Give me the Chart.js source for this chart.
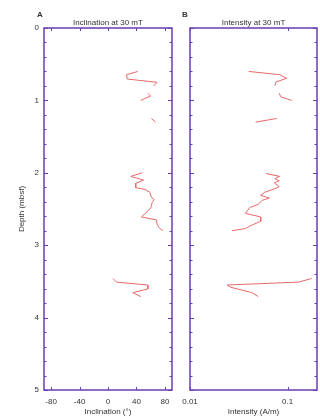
<!DOCTYPE html>
<html>
<head>
<meta charset="utf-8">
<script src="https://cdn.jsdelivr.net/npm/chart.js@4.4.1/dist/chart.umd.min.js"></script>
<style>
body{margin:0;background:#fff;}
#wrap{position:relative;width:320px;height:418px;}
canvas{position:absolute;top:0;}
</style>
</head>
<body>
<div id="wrap">
<canvas id="chartA" width="180" height="418" style="left:0"></canvas>
<canvas id="chartB" width="140" height="418" style="left:180px"></canvas>
</div>
<script>
// depth (mbsf) and values, null = gap between core sections
var incDepth = [0.60,0.645,0.705,0.75,0.80,null,0.90,0.94,1.00,null,1.25,1.30,null,
  2.00,2.05,2.10,2.145,2.205,2.23,2.27,2.34,2.37,2.41,2.47,2.53,2.61,2.65,2.71,2.76,2.80,null,
  3.46,3.51,3.55,3.605,3.655,3.71];
var incValue = [42,26,27,69,64,null,56,60,46,null,61,67,null,
  48,32,50,39,39,52,59,61,65,62,61,56,47,68,69,72,77,null,
  7,12,56,56,35,46];

var intDepth = [0.60,0.645,0.695,0.745,0.80,null,0.90,0.95,1.00,null,1.25,1.30,null,
  2.01,2.05,2.08,2.11,2.14,2.19,2.22,2.27,2.31,2.35,2.38,2.435,2.48,2.56,2.61,2.67,2.735,2.77,2.80,null,
  3.46,3.51,3.55,3.58,3.655,3.71];
var intValue = [0.040,0.083,0.098,0.076,0.074,null,0.082,0.085,0.110,null,0.077,0.047,null,
  0.060,0.083,0.074,0.082,0.073,0.082,0.074,0.058,0.053,0.065,0.055,0.050,0.041,0.037,0.053,0.053,0.041,0.037,0.027,null,
  0.176,0.129,0.024,0.026,0.043,0.050];

var incTicks = [-80,-40,0,40,80];
var intTicks = [0.01,0.1];
var depthTicks = [0,1,2,3,4,5];

var axisColor = '#6a3db0';
var lineColor = '#e86868';

Chart.defaults.font.family = '"Liberation Sans", Arial, sans-serif';
Chart.defaults.font.size = 8;
Chart.defaults.color = '#333';

function toPoints(xs, ys){
  return xs.map(function(v, i){ return {x: v, y: ys[i]}; });
}

// frame, inward ticks, panel titles
var frame = {
  id: 'frame',
  afterDraw: function(chart){
    var ctx = chart.ctx, a = chart.chartArea;
    var xs = chart.scales.x, ys = chart.scales.y;
    var o = chart.options.plugins.frame;
    ctx.save();
    ctx.strokeStyle = axisColor;
    ctx.lineWidth = 1.5;
    ctx.strokeRect(a.left, a.top, a.right - a.left, a.bottom - a.top);
    ctx.lineWidth = 1;
    ctx.beginPath();
    xs.ticks.forEach(function(t){
      var px = Math.round(xs.getPixelForValue(t.value)) + 0.5;
      ctx.moveTo(px, a.top); ctx.lineTo(px, a.top + 3);
      ctx.moveTo(px, a.bottom); ctx.lineTo(px, a.bottom - 3);
    });
    for (var i = 0; i <= 25; i++){
      var d = i / 5;
      var py = Math.round(ys.getPixelForValue(d)) + 0.5;
      var len = (i % 5 === 0) ? 4 : 2.5;
      ctx.moveTo(a.left, py); ctx.lineTo(a.left + len, py);
      ctx.moveTo(a.right, py); ctx.lineTo(a.right - len, py);
    }
    ctx.stroke();
    ctx.fillStyle = '#333';
    ctx.font = '8px "Liberation Sans", Arial';
    ctx.textAlign = 'center';
    ctx.textBaseline = 'middle';
    ctx.fillText(o.title, (a.left + a.right) / 2, 23);
    ctx.font = 'bold 8px "Liberation Sans", Arial';
    ctx.textAlign = 'left';
    ctx.fillText(o.letter, o.letterX, 14.5);
    ctx.restore();
  }
};

var depthScale = {
  type: 'linear', reverse: true, min: 0, max: 5,
  grid: {display: false, drawTicks: false},
  border: {display: false},
  afterBuildTicks: function(s){ s.ticks = depthTicks.map(function(v){ return {value: v}; }); }
};

function fitX(s){ s.height = 28; s.paddingLeft = 0; s.paddingRight = 0; }

new Chart(document.getElementById('chartA'), {
  type: 'scatter',
  data: {datasets: [{
    data: toPoints(incValue, incDepth),
    showLine: true, spanGaps: false, pointRadius: 0,
    borderColor: lineColor, borderWidth: 1
  }]},
  options: {
    responsive: false, animation: false, devicePixelRatio: 1,
    layout: {padding: {top: 28, right: 8, left: 0, bottom: 0}},
    plugins: {legend: {display: false}, tooltip: {enabled: false},
      frame: {title: 'Inclination at 30 mT', letter: 'A', letterX: 37}},
    scales: {
      x: {
        type: 'linear', min: -90, max: 90,
        grid: {display: false, drawTicks: false},
        border: {display: false},
        afterBuildTicks: function(s){ s.ticks = incTicks.map(function(v){ return {value: v}; }); },
        ticks: {padding: 7, maxRotation: 0},
        title: {display: true, text: 'Inclination (°)', padding: {top: 1, bottom: 1}},
        afterFit: fitX
      },
      y: Object.assign({}, depthScale, {
        ticks: {padding: 5},
        title: {display: true, text: 'Depth (mbsf)', padding: {top: 17, bottom: 17}},
        afterFit: function(s){ s.width = 44; }
      })
    }
  },
  plugins: [frame]
});

new Chart(document.getElementById('chartB'), {
  type: 'scatter',
  data: {datasets: [{
    data: toPoints(intValue, intDepth),
    showLine: true, spanGaps: false, pointRadius: 0,
    borderColor: lineColor, borderWidth: 1
  }]},
  options: {
    responsive: false, animation: false, devicePixelRatio: 1,
    layout: {padding: {top: 28, right: 3, left: 10, bottom: 0}},
    plugins: {legend: {display: false}, tooltip: {enabled: false},
      frame: {title: 'Intensity at 30 mT', letter: 'B', letterX: 2}},
    scales: {
      x: {
        type: 'logarithmic', min: 0.01, max: 0.2,
        grid: {display: false, drawTicks: false},
        border: {display: false},
        afterBuildTicks: function(s){ s.ticks = intTicks.map(function(v){ return {value: v}; }); },
        ticks: {padding: 7, maxRotation: 0, autoSkip: false,
          callback: function(v){ return String(v); }},
        title: {display: true, text: 'Intensity (A/m)', padding: {top: 1, bottom: 1}},
        afterFit: fitX
      },
      y: Object.assign({}, depthScale, {display: false})
    }
  },
  plugins: [frame]
});
</script>
</body>
</html>
